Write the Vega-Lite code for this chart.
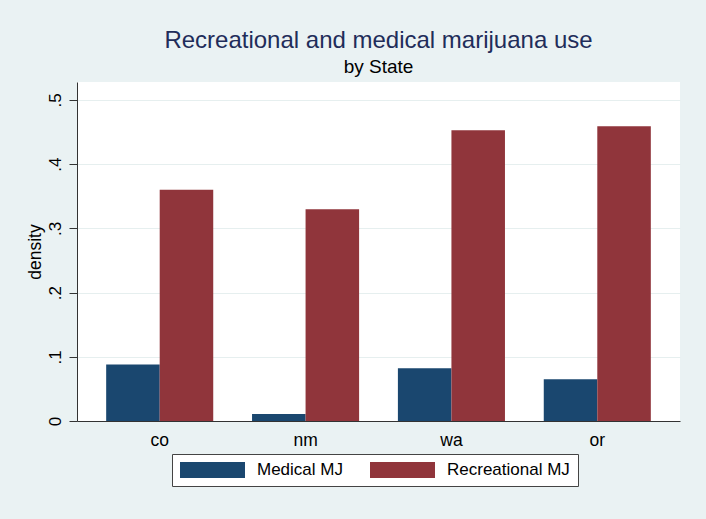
{
  "$schema": "https://vega.github.io/schema/vega-lite/v6.json",
  "width": 603,
  "height": 339,
  "autosize": {"type": "none"},
  "padding": {"left": 77, "top": 82, "right": 26, "bottom": 98},
  "background": "#EAF2F3",
  "title": {
    "text": "Recreational and medical marijuana use",
    "subtitle": "by State",
    "font": "Liberation Sans",
    "subtitleFont": "Liberation Sans",
    "fontSize": 24,
    "subtitleFontSize": 19,
    "fontWeight": "normal",
    "color": "#1f2d5a",
    "subtitleColor": "#000000",
    "anchor": "middle",
    "frame": "group",
    "offset": 5,
    "subtitlePadding": 5
  },
  "data": {
    "values": [
      {"state": "co", "type": "Medical MJ", "density": 0.088},
      {"state": "co", "type": "Recreational MJ", "density": 0.360},
      {"state": "nm", "type": "Medical MJ", "density": 0.011},
      {"state": "nm", "type": "Recreational MJ", "density": 0.330},
      {"state": "wa", "type": "Medical MJ", "density": 0.082},
      {"state": "wa", "type": "Recreational MJ", "density": 0.453},
      {"state": "or", "type": "Medical MJ", "density": 0.065},
      {"state": "or", "type": "Recreational MJ", "density": 0.459}
    ]
  },
  "mark": {"type": "bar"},
  "encoding": {
    "x": {
      "field": "state",
      "type": "nominal",
      "sort": ["co", "nm", "wa", "or"],
      "scale": {"paddingInner": 0.266, "paddingOuter": 0.2},
      "axis": {
        "title": null,
        "labelAngle": 0,
        "ticks": false,
        "labelPadding": 10,
        "labelFontSize": 17.5,
        "labelColor": "#000000",
        "domainColor": "#333333",
        "domainWidth": 1,
        "grid": false
      }
    },
    "xOffset": {
      "field": "type",
      "type": "nominal",
      "sort": ["Medical MJ", "Recreational MJ"],
      "scale": {"paddingInner": 0, "paddingOuter": 0}
    },
    "y": {
      "field": "density",
      "type": "quantitative",
      "scale": {"domain": [0, 0.528], "nice": false, "zero": true},
      "axis": {
        "title": "density",
        "titleFontSize": 17.5,
        "titleFontWeight": "normal",
        "titleColor": "#000000",
        "titlePadding": 2,
        "values": [0, 0.1, 0.2, 0.3, 0.4, 0.5],
        "labelExpr": "datum.value == 0 ? '0' : replace(format(datum.value, '.1f'), '0.', '.')",
        "labelAngle": -90,
        "labelFontSize": 17,
        "labelColor": "#000000",
        "labelPadding": 5,
        "tickSize": 8,
        "tickColor": "#333333",
        "domainColor": "#333333",
        "domainWidth": 1,
        "grid": true,
        "gridColor": "#E6EFEF",
        "gridWidth": 1
      }
    },
    "color": {
      "field": "type",
      "type": "nominal",
      "scale": {"domain": ["Medical MJ", "Recreational MJ"], "range": ["#1a476f", "#90353b"]},
      "legend": {
        "title": null,
        "orient": "none",
        "legendX": 95,
        "legendY": 372,
        "direction": "horizontal",
        "symbolType": "M-1,-0.246H1V0.246H-1Z",
        "symbolSize": 4225,
        "symbolStrokeWidth": 0,
        "symbolOpacity": 1,
        "clipHeight": 16,
        "labelFontSize": 17,
        "labelColor": "#000000",
        "labelOffset": 12,
        "columnPadding": 27,
        "padding": 8,
        "strokeColor": "#444444",
        "fillColor": "#ffffff"
      }
    }
  },
  "config": {
    "font": "Liberation Sans",
    "view": {"fill": "#ffffff", "stroke": null}
  }
}
